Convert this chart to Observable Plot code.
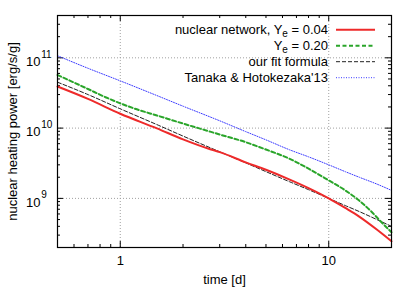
<!DOCTYPE html>
<html><head><meta charset="utf-8">
<script src="https://cdn.jsdelivr.net/npm/d3@7"></script>
<script src="https://cdn.jsdelivr.net/npm/@observablehq/plot@0.6"></script>
<style>
body{margin:0;background:#fff;}
svg{display:block;}
</style>
</head><body><div id="chart"></div>
<script>
// ---- data ----
const tRed   = [0.5, 0.7, 1, 1.5, 2, 2.7, 3, 4, 5, 6.5, 8, 10, 12, 14, 17, 20];
const vRed   = [3.9e10, 2.6e10, 1.6e10, 9.9e9, 6.9e9, 5.0e9, 4.55e9, 3.25e9, 2.55e9, 1.85e9, 1.4e9, 1.0e9, 7.3e8, 5.5e8, 3.6e8, 2.45e8];

const tGreen = [0.5, 0.7, 0.85, 1, 1.2, 1.5, 2, 2.7, 3, 4, 5, 6.5, 8, 10, 12, 14, 16, 18, 20];
const vGreen = [5.7e10, 3.6e10, 2.75e10, 2.25e10, 1.85e10, 1.51e10, 1.16e10, 8.9e9, 8.1e9, 6.3e9, 4.95e9, 3.65e9, 2.65e9, 1.8e9, 1.3e9, 9.3e8, 6.5e8, 4.5e8, 3.3e8];

const tFit   = [0.5, 0.7, 1, 1.5, 2, 3, 4, 5, 6.5, 8, 10, 12, 14, 17, 20];
const vFit   = [4.5e10, 3.0e10, 1.88e10, 1.12e10, 7.7e9, 4.6e9, 3.2e9, 2.4e9, 1.72e9, 1.33e9, 1.0e9, 7.9e8, 6.5e8, 5.0e8, 4.0e8];

const tTH    = [0.5, 0.7, 1, 1.5, 2, 3, 4, 5, 6.5, 8, 10, 12, 14, 17, 20];
const vTH    = [1.07e11, 7.1e10, 4.7e10, 2.9e10, 2.05e10, 1.27e10, 8.9e9, 6.8e9, 4.9e9, 3.9e9, 3.0e9, 2.4e9, 2.0e9, 1.6e9, 1.3e9];

const seriesLabels = ["nuclear network, Y_e = 0.04", "Y_e = 0.20", "our fit formula", "Tanaka & Hotokezaka'13"];
const seriesColors = ["#ee2a2a", "#2aa52a", "#222222", "#3a3aff"];
const seriesWidths = [2, 2, 1, 1];
const seriesDashes = [null, "4,2.5", "4,2", "1,1.5"];

const xMajor = [1, 10];
const xMinor = [0.6, 0.7, 0.8, 0.9, 2, 3, 4, 5, 6, 7, 8, 9, 20];
const yMajor = [1e9, 1e10, 1e11];
const yMinor = [2e8,3e8,4e8,5e8,6e8,7e8,8e8,9e8, 2e9,3e9,4e9,5e9,6e9,7e9,8e9,9e9, 2e10,3e10,4e10,5e10,6e10,7e10,8e10,9e10, 2e11,3e11];
const yExponents = ["9", "10", "11"];
const xTitle = "time [d]";
const yTitle = "nuclear heating power [erg/s/g]";

// ---- layout ----
const W = 415, Hh = 290;
const mL = 57, mR = 24, mT = 15, mB = 43;
const PW = W - mL - mR, PH = Hh - mT - mB;
const font = "Liberation Sans, Arial, Helvetica, sans-serif";

const seriesT = [tRed, tGreen, tFit, tTH];
const seriesV = [vRed, vGreen, vFit, vTH];
const series = seriesT.map((ts, k) => ts.map((t, i) => ({t, v: seriesV[k][i]})));

const grid = {stroke: "#a0a0a0", strokeDasharray: "1,2", strokeWidth: 1};
const tick = {stroke: "black", strokeWidth: 1};

const marks = [
  Plot.ruleX(xMajor, grid),
  Plot.ruleY(yMajor, grid),
  // tick marks (inside, mirrored)
  Plot.ruleX(xMajor, {...tick, insetTop: PH - 6}),
  Plot.ruleX(xMajor, {...tick, insetBottom: PH - 6}),
  Plot.ruleX(xMinor, {...tick, insetTop: PH - 3}),
  Plot.ruleX(xMinor, {...tick, insetBottom: PH - 3}),
  Plot.ruleY(yMajor, {...tick, insetRight: PW - 6}),
  Plot.ruleY(yMajor, {...tick, insetLeft: PW - 6}),
  Plot.ruleY(yMinor, {...tick, insetRight: PW - 3}),
  Plot.ruleY(yMinor, {...tick, insetLeft: PW - 3}),
];
// draw in reverse so red is on top
for (let k = series.length - 1; k >= 0; k--) {
  marks.push(Plot.line(series[k], {
    x: "t", y: "v", stroke: seriesColors[k], strokeWidth: seriesWidths[k],
    strokeDasharray: seriesDashes[k], curve: "monotone-x"
  }));
}
marks.push(
  Plot.frame({stroke: "black", strokeWidth: 1.2}),
  // x tick labels
  Plot.text(xMajor, {x: d => d, frameAnchor: "bottom", lineAnchor: "top", dy: 8.5, text: d => String(d), fontSize: 13}),
  // y tick labels: base and exponent
  Plot.text(yMajor, {y: d => d, frameAnchor: "left", textAnchor: "end", dx: -17, dy: 4.2, text: () => "10", fontSize: 13}),
  Plot.text(yMajor, {y: d => d, frameAnchor: "left", textAnchor: "start", dx: -16.3, dy: -3.4, text: (d, i) => yExponents[i], fontSize: 10}),
  // axis titles
  Plot.text([xTitle], {frameAnchor: "bottom", textAnchor: "middle", lineAnchor: "top", dy: 27, text: d => d, fontSize: 13}),
  Plot.text([yTitle], {frameAnchor: "left", textAnchor: "middle", rotate: -90, dx: -44.8, text: d => d, fontSize: 13})
);

const chart = Plot.plot({
  width: W, height: Hh,
  marginLeft: mL, marginRight: mR, marginTop: mT, marginBottom: mB,
  style: {fontFamily: font, fontSize: "13px", background: "white", color: "black"},
  x: {type: "log", domain: [0.5, 20], axis: null},
  y: {type: "log", domain: [2e8, 4e11], axis: null},
  marks
});

// ---- legend (inside top-right of the frame) ----
const svg = d3.select(chart);
const lg = svg.append("g").attr("font-family", font).attr("font-size", 13);
const lineX2 = W - mR - 16, lineX1 = lineX2 - 39, textX = lineX1 - 8;
seriesLabels.forEach((lab, i) => {
  const yy = mT + 14.7 + 16 * i;
  const txt = lg.append("text").attr("x", textX).attr("y", yy + 4.2).attr("text-anchor", "end").attr("fill", "black");
  const parts = lab.split("_e");
  if (parts.length === 2) {
    txt.append("tspan").text(parts[0]);
    txt.append("tspan").attr("font-size", 10).attr("dy", 3.5).text("e");
    txt.append("tspan").attr("dy", -3.5).text(parts[1]);
  } else {
    txt.text(lab);
  }
  lg.append("line").attr("x1", lineX1).attr("x2", lineX2).attr("y1", yy).attr("y2", yy)
    .attr("stroke", seriesColors[i]).attr("stroke-width", seriesWidths[i])
    .attr("stroke-dasharray", seriesDashes[i]);
});

document.getElementById("chart").appendChild(chart);
</script>
</body></html>
